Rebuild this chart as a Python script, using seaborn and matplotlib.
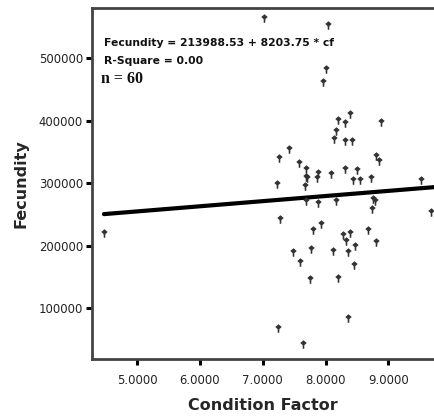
import numpy as np
import pandas as pd
import matplotlib
matplotlib.use("Agg")
import matplotlib.pyplot as plt
from matplotlib.path import Path
from matplotlib.ticker import FormatStrFormatter
import seaborn as sns

# ---- data ----
condition_factor = [4.469, 7.027, 8.044, 8.002, 7.964, 8.390, 8.198, 8.315, 8.876, 8.163,
                    8.139, 8.315, 8.414, 7.418, 7.263, 8.804, 8.844, 7.577, 7.688, 8.315,
                    8.506, 7.884, 8.079, 7.688, 7.712, 7.864, 8.433, 8.549, 8.724, 9.518,
                    7.226, 7.676, 7.696, 7.884, 8.167, 8.761, 8.788, 8.745, 9.676, 7.279,
                    7.923, 7.805, 8.684, 8.278, 8.390, 8.331, 8.804, 8.469, 7.477, 7.768,
                    8.119, 8.353, 7.593, 8.449, 7.747, 8.198, 8.353, 7.245, 7.636]
fecundity = [221000, 564000, 553000, 483000, 462000, 411000, 402000, 396500, 398000, 383000,
             371500, 367500, 367500, 355000, 341000, 343000, 335500, 332000, 323000, 323500,
             321000, 317000, 315500, 310500, 308000, 308500, 305500, 305500, 309000, 306000,
             299500, 296000, 272000, 269000, 272000, 275000, 271000, 259000, 254500, 243000,
             235500, 225500, 225500, 216500, 221000, 207500, 206000, 200000, 190500, 195000,
             192000, 190500, 174500, 169500, 147500, 149000, 85000, 69000, 43500]
intercept = 213988.53
slope = 8203.75
x_ticks = [5.0, 6.0, 7.0, 8.0, 9.0]
y_ticks = [100000, 200000, 300000, 400000, 500000]
eq_text = "Fecundity = 213988.53 + 8203.75 * cf"
r2_text = "R-Square = 0.00"
n_text = "n = 60"

df = pd.DataFrame({"cf": condition_factor, "fec": fecundity})

sns.set_style("white")
plt.rcParams["font.family"] = ["DejaVu Sans"]

fig = plt.figure(figsize=(4.34, 4.17), dpi=100)
ax = fig.add_axes([92 / 434, 58 / 417, 342 / 434, 351 / 417])

xmin, xmax = 4.279, 9.728
ymin, ymax = 18800, 580500

# custom SPSS-like clover marker
verts = [(0.0, 1.0), (0.75, 0.35), (0.2, -0.15), (0.18, -1.0), (-0.18, -1.0),
         (-0.2, -0.15), (-0.75, 0.35), (0.0, 1.0)]
codes = [Path.MOVETO] + [Path.LINETO] * 6 + [Path.CLOSEPOLY]
clover = Path(verts, codes)

sns.scatterplot(data=df, x="cf", y="fec", marker=clover, s=38, color="#333333",
                linewidth=0, ax=ax, zorder=3)

line_x = np.array([min(condition_factor), xmax + 0.1])
line_df = pd.DataFrame({"cf": line_x, "fec": intercept + slope * line_x})
sns.lineplot(data=line_df, x="cf", y="fec", color="black", linewidth=3.0, ax=ax,
             zorder=2)

ax.set_xlim(xmin, xmax)
ax.set_ylim(ymin, ymax)
ax.set_xticks(x_ticks)
ax.set_yticks(y_ticks)
ax.xaxis.set_major_formatter(FormatStrFormatter("%.4f"))
ax.yaxis.set_major_formatter(FormatStrFormatter("%d"))

for side in ["left", "top", "bottom"]:
    ax.spines[side].set_color("#444444")
    ax.spines[side].set_linewidth(2.0)
ax.spines["right"].set_visible(False)

ax.tick_params(axis="both", direction="out", length=4.5, width=2.2, color="black",
               labelsize=8.4, labelcolor="#222222")
ax.tick_params(axis="x", pad=6)
ax.tick_params(axis="y", pad=2)
ax.tick_params(bottom=True, left=True, top=False, right=False)

ax.set_xlabel("Condition Factor", fontsize=11.5, fontweight="bold", labelpad=8)
ax.set_ylabel("Fecundity", fontsize=11.5, fontweight="bold", labelpad=7)

fig.text(104 / 434, 1 - 43 / 417, eq_text, fontsize=7.75, fontweight="bold",
         va="center", ha="left", color="#111111")
fig.text(104 / 434, 1 - 61 / 417, r2_text, fontsize=7.75, fontweight="bold",
         va="center", ha="left", color="#111111")
fig.text(101 / 434, 1 - 79 / 417, n_text, fontsize=11.5, fontweight="bold",
         va="center", ha="left", color="#111111",
         family=["Liberation Serif", "DejaVu Serif"])

fig.savefig("out.png", dpi=100)
